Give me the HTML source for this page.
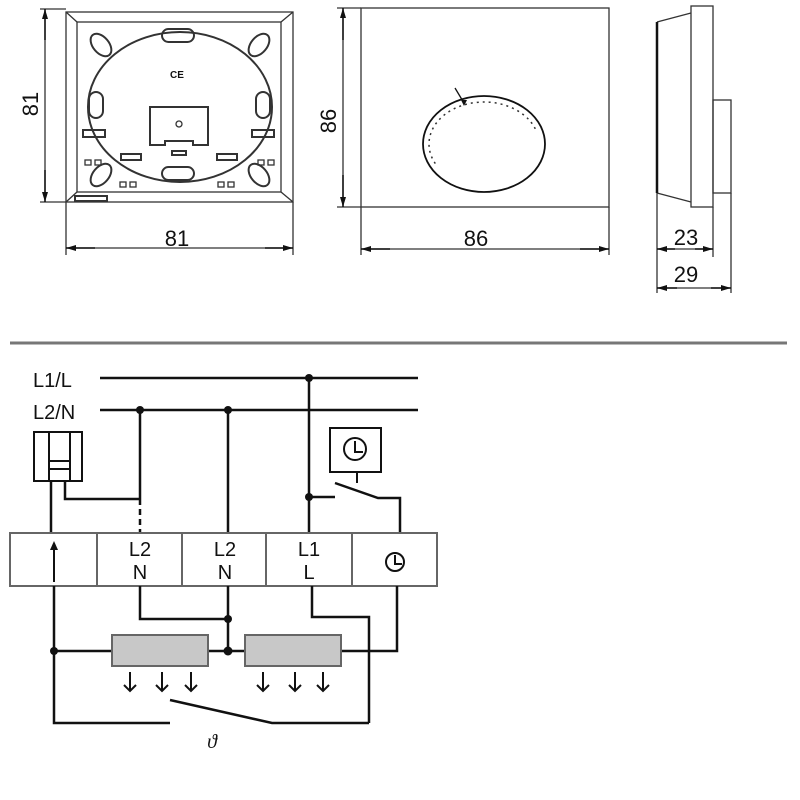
<!DOCTYPE html>
<html><head><meta charset="utf-8"><style>
html,body{margin:0;padding:0;background:#fff;width:800px;height:800px;overflow:hidden}
text{font-family:"Liberation Sans",sans-serif;fill:#111}
</style></head><body>
<svg width="800" height="800" viewBox="0 0 800 800" xmlns="http://www.w3.org/2000/svg">
<defs>
<marker id="ah" markerWidth="10" markerHeight="6" refX="10" refY="3" orient="auto" markerUnits="userSpaceOnUse"><path d="M0,0 L10,3 L0,6z" fill="#111"/></marker>
</defs>
<g fill="none" stroke="#333" stroke-width="1.3">
<rect x="66" y="12" width="227" height="190"/>
<rect x="77" y="22" width="204" height="170"/>
<line x1="66" y1="12" x2="77" y2="22"/><line x1="293" y1="12" x2="281" y2="22"/>
<line x1="66" y1="202" x2="77" y2="192"/><line x1="293" y1="202" x2="281" y2="192"/>
<ellipse cx="180" cy="107" rx="92" ry="75" stroke-width="2"/>
<rect x="162" y="29" width="32" height="13" rx="6.5" stroke-width="2"/>
<rect x="162" y="167" width="32" height="13" rx="6.5" stroke-width="2"/>
<rect x="89" y="92" width="14" height="26" rx="7" stroke-width="2"/>
<rect x="256" y="92" width="14" height="26" rx="7" stroke-width="2"/>
<rect x="83" y="130" width="22" height="7" stroke-width="2"/>
<rect x="252" y="130" width="22" height="7" stroke-width="2"/>
<ellipse cx="101" cy="45" rx="8" ry="13" transform="rotate(-40 101 45)" stroke-width="2"/>
<ellipse cx="259" cy="45" rx="8" ry="13" transform="rotate(40 259 45)" stroke-width="2"/>
<ellipse cx="101" cy="175" rx="8" ry="13" transform="rotate(40 101 175)" stroke-width="2"/>
<ellipse cx="259" cy="175" rx="8" ry="13" transform="rotate(-40 259 175)" stroke-width="2"/>
<path d="M150 107 H208 V145 H193 V141 H165 V145 H150Z" stroke-width="2"/>
<circle cx="179" cy="124" r="3"/>
<rect x="172" y="151" width="14" height="4" stroke-width="2"/>
<rect x="121" y="154" width="20" height="6" stroke-width="2"/>
<rect x="217" y="154" width="20" height="6" stroke-width="2"/>
<rect x="120" y="182" width="6" height="5"/><rect x="130" y="182" width="6" height="5"/>
<rect x="218" y="182" width="6" height="5"/><rect x="228" y="182" width="6" height="5"/>
<rect x="85" y="160" width="6" height="5"/><rect x="95" y="160" width="6" height="5"/>
<rect x="258" y="160" width="6" height="5"/><rect x="268" y="160" width="6" height="5"/>
<rect x="75" y="196" width="32" height="5" stroke-width="2"/>
<line x1="40" y1="9" x2="66" y2="9"/><line x1="40" y1="202" x2="66" y2="202"/>
<line x1="45" y1="9" x2="45" y2="202"/>
<line x1="66" y1="202" x2="66" y2="255"/><line x1="293" y1="202" x2="293" y2="255"/>
<line x1="66" y1="248" x2="293" y2="248"/>
<rect x="361" y="8" width="248" height="199"/>
<g stroke="#333" stroke-width="1.5" stroke-dasharray="2,4">
<ellipse cx="484" cy="144" rx="55" ry="42"/>
</g>
<ellipse cx="484" cy="160" rx="48" ry="36" fill="#fff" stroke="none"/>
<rect x="482" y="130" width="60" height="70" fill="#fff" stroke="none"/>
<ellipse cx="484" cy="144" rx="61" ry="48" stroke="#111" stroke-width="1.8"/>
<line x1="455" y1="88" x2="464" y2="103" stroke="#111"/>
<path d="M461 100 L467 100 L464 106Z" fill="#111" stroke="none"/>
<line x1="337" y1="8" x2="361" y2="8"/><line x1="337" y1="207" x2="361" y2="207"/>
<line x1="343" y1="8" x2="343" y2="207"/>
<line x1="361" y1="207" x2="361" y2="255"/><line x1="609" y1="207" x2="609" y2="255"/>
<line x1="361" y1="249" x2="609" y2="249"/>
<path d="M657 22 L691 13 M657 193 L691 202"/>
<line x1="657" y1="22" x2="657" y2="193" stroke="#111" stroke-width="2.5"/>
<rect x="691" y="6" width="22" height="201"/>
<rect x="713" y="100" width="18" height="93"/>
<line x1="657" y1="193" x2="657" y2="293"/><line x1="713" y1="207" x2="713" y2="257"/>
<line x1="731" y1="193" x2="731" y2="293"/>
<line x1="657" y1="249" x2="713" y2="249"/>
<line x1="657" y1="288" x2="731" y2="288"/>
</g>
<g stroke="#111" stroke-width="1.5">
<line x1="45" y1="40" x2="45" y2="9" marker-end="url(#ah)"/><line x1="45" y1="170" x2="45" y2="202" marker-end="url(#ah)"/>
<line x1="95" y1="248" x2="66" y2="248" marker-end="url(#ah)"/><line x1="265" y1="248" x2="293" y2="248" marker-end="url(#ah)"/>
<line x1="343" y1="40" x2="343" y2="8" marker-end="url(#ah)"/><line x1="343" y1="175" x2="343" y2="207" marker-end="url(#ah)"/>
<line x1="390" y1="249" x2="361" y2="249" marker-end="url(#ah)"/><line x1="580" y1="249" x2="609" y2="249" marker-end="url(#ah)"/>
<line x1="675" y1="249" x2="657" y2="249" marker-end="url(#ah)"/><line x1="695" y1="249" x2="713" y2="249" marker-end="url(#ah)"/>
<line x1="677" y1="288" x2="657" y2="288" marker-end="url(#ah)"/><line x1="711" y1="288" x2="731" y2="288" marker-end="url(#ah)"/>
</g>
<text x="177" y="78" font-size="10" font-weight="bold" text-anchor="middle">CE</text>
<text x="177" y="246" font-size="22" text-anchor="middle">81</text>
<text x="0" y="0" font-size="22" text-anchor="middle" transform="translate(38,104) rotate(-90)">81</text>
<text x="476" y="246" font-size="22" text-anchor="middle">86</text>
<text x="0" y="0" font-size="22" text-anchor="middle" transform="translate(336,121) rotate(-90)">86</text>
<text x="686" y="245" font-size="22" text-anchor="middle">23</text>
<text x="686" y="282" font-size="22" text-anchor="middle">29</text>
<line x1="10" y1="343" x2="787" y2="343" stroke="#777" stroke-width="3"/>
<g fill="none" stroke="#111" stroke-width="2.5">
<line x1="100" y1="378" x2="418" y2="378"/>
<line x1="100" y1="410" x2="418" y2="410"/>
<path d="M140 410 V499"/><path d="M140 499 V533" stroke-dasharray="6,4"/>
<path d="M228 410 V533"/>
<path d="M309 378 V533"/><path d="M309 497 H335"/>
<rect x="34" y="432" width="48" height="49" stroke-width="2"/>
<path d="M49 432 V481 M70 432 V481 M49 461 H70 M49 469 H70" stroke-width="2"/>
<path d="M51 481 V533"/><path d="M65 481 V499 H140"/>
<rect x="330" y="428" width="51" height="44" stroke-width="2"/>
<circle cx="355" cy="449" r="11" stroke-width="2"/><path d="M355 441 V452 H363" stroke-width="2"/>
<path d="M357 472 V483" stroke-width="2"/>
<path d="M335 483 L378 498 H400 V533"/>
<rect x="10" y="533" width="427" height="53" stroke="#666" stroke-width="2"/>
<path d="M97 533 V586 M182 533 V586 M266 533 V586 M352 533 V586" stroke="#666" stroke-width="2"/>
<circle cx="395" cy="562" r="9" stroke-width="2"/><path d="M395 555 V564 H402" stroke-width="2"/>
<path d="M140 586 V619 H228 M228 586 V651"/>
<path d="M312 586 V617 H369 V723"/>
<path d="M397 586 V651 H341"/>
<path d="M54 586 V723 H170"/>
<path d="M54 651 H112 M208 651 H245"/>
<path d="M170 700 L272 723 H369"/>
<rect x="112" y="635" width="96" height="31" fill="#c8c8c8" stroke="#666" stroke-width="2"/>
<rect x="245" y="635" width="96" height="31" fill="#c8c8c8" stroke="#666" stroke-width="2"/>
<g stroke-width="2">
<path d="M130 672 V691 M124 685 L130 691 L136 685"/>
<path d="M162 672 V691 M156 685 L162 691 L168 685"/>
<path d="M191 672 V691 M185 685 L191 691 L197 685"/>
<path d="M263 672 V691 M257 685 L263 691 L269 685"/>
<path d="M295 672 V691 M289 685 L295 691 L301 685"/>
<path d="M323 672 V691 M317 685 L323 691 L329 685"/>
</g>
</g>
<path d="M54 582 V548" stroke="#111" stroke-width="2"/><path d="M50 550 L54 541 L58 550Z" fill="#111"/>
<g fill="#111">
<circle cx="309" cy="378" r="4"/><circle cx="140" cy="410" r="4"/><circle cx="228" cy="410" r="4"/>
<circle cx="309" cy="497" r="4"/><circle cx="228" cy="619" r="4"/><circle cx="228" cy="651" r="4.5"/>
<circle cx="54" cy="651" r="4"/>
</g>
<text x="33" y="387" font-size="20">L1/L</text>
<text x="33" y="419" font-size="20">L2/N</text>
<text x="140" y="556" font-size="20" text-anchor="middle">L2</text>
<text x="140" y="579" font-size="20" text-anchor="middle">N</text>
<text x="225" y="556" font-size="20" text-anchor="middle">L2</text>
<text x="225" y="579" font-size="20" text-anchor="middle">N</text>
<text x="309" y="556" font-size="20" text-anchor="middle">L1</text>
<text x="309" y="579" font-size="20" text-anchor="middle">L</text>
<text x="212" y="748" font-size="20" font-style="italic" text-anchor="middle" style="font-family:'Liberation Serif',serif">ϑ</text>
</svg>
</body></html>
